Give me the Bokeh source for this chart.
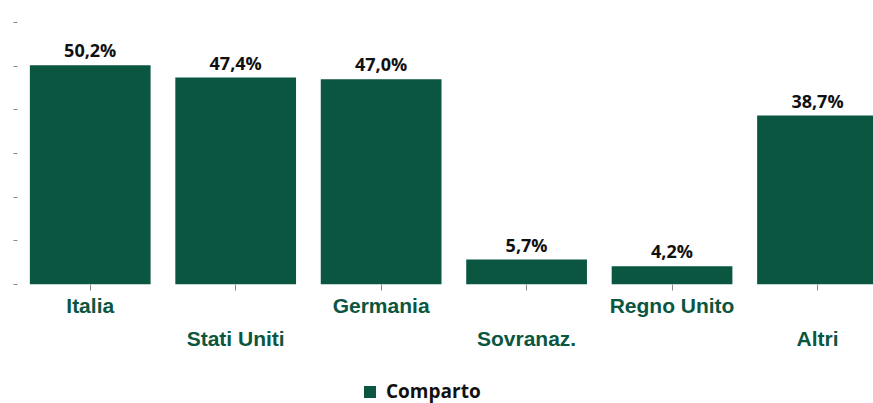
from bokeh.plotting import figure
from bokeh.models import (ColumnDataSource, Range1d, FixedTicker, LinearAxis,
                          Legend, LegendItem)
from bokeh.layouts import column
from bokeh.core.properties import value
from bokeh.embed import file_html
from bokeh.resources import INLINE

categories = ["Italia", "Stati Uniti", "Germania", "Sovranaz.", "Regno Unito", "Altri"]
values = [50.2, 47.4, 47.0, 5.7, 4.2, 38.7]
value_labels = ["50,2%", "47,4%", "47,0%", "5,7%", "4,2%", "38,7%"]
series_name = "Comparto"
y_ticks = [0, 10, 20, 30, 40, 50, 60]

GREEN = "#0B5640"
x = list(range(len(categories)))
src = ColumnDataSource(dict(x=x, top=values, lab=value_labels))

p = figure(frame_width=856, frame_height=262, output_backend="svg",
           toolbar_location=None, x_range=Range1d(-0.5, 5.385),
           y_range=Range1d(0, 60), x_axis_location=None, y_axis_location=None,
           min_border_left=17, min_border_top=22, min_border_right=0,
           min_border_bottom=0)
p.outline_line_color = None
p.xgrid.visible = False
p.ygrid.visible = False

bars = p.vbar(x="x", top="top", width=0.83, source=src, fill_color=GREEN,
              line_color=None)
p.text(x="x", y="top", text="lab", source=src, text_align="center",
       text_baseline="bottom", y_offset=-3, text_font=value("Open Sans"),
       text_font_style="bold", text_font_size="18px", text_color="#111111")

# left axis: ticks only
yax = LinearAxis(ticker=FixedTicker(ticks=y_ticks))
yax.axis_line_color = None
yax.major_tick_in = 0
yax.major_tick_out = 4
yax.major_tick_line_color = "#888888"
yax.minor_tick_line_color = None
yax.major_label_overrides = {t: " " for t in y_ticks}
yax.major_label_text_font_size = "1px"
yax.major_label_standoff = 0
p.add_layout(yax, "left")

def cat_axis(ticks, shown, standoff, tick_out, tick_color):
    ax = LinearAxis(ticker=FixedTicker(ticks=ticks))
    ax.major_label_overrides = {i: (categories[i] if i in shown else " ") for i in ticks}
    ax.axis_line_color = None
    ax.major_tick_in = 0
    ax.major_tick_out = tick_out
    ax.major_tick_line_color = tick_color
    ax.minor_tick_line_color = None
    ax.major_label_standoff = standoff
    ax.major_label_text_font = "Liberation Sans"
    ax.major_label_text_font_style = "bold"
    ax.major_label_text_font_size = "21px"
    ax.major_label_text_color = GREEN
    return ax

ax1 = cat_axis(x, [0, 2, 4], 3, 6, "#888888")
ax2 = cat_axis([1, 3, 5], [1, 3, 5], 7, 0, None)
p.add_layout(ax1, "below")
p.add_layout(ax2, "below")

# legend strip below the chart (its key renderer sits outside the visible ranges)
lg = figure(width=873, height=60, output_backend="svg", toolbar_location=None,
            x_range=Range1d(100, 101), y_range=Range1d(100, 101),
            x_axis_location=None, y_axis_location=None,
            min_border_left=0, min_border_right=0, min_border_top=0,
            min_border_bottom=0)
lg.outline_line_color = None
lg.xgrid.visible = False
lg.ygrid.visible = False
key = lg.vbar(x="x", top="top", width=0.83, source=src, fill_color=GREEN,
              line_color=None)

legend = Legend(items=[LegendItem(label=series_name, renderers=[key], index=0)],
                orientation="horizontal", location=(345, 8),
                label_text_font="Open Sans", label_text_font_style="bold",
                label_text_font_size="19px", label_text_color="#111111",
                glyph_width=15, glyph_height=15, border_line_color=None,
                background_fill_alpha=0, margin=0, padding=0, label_standoff=9)
lg.add_layout(legend, "center")

layout = column(p, lg, spacing=0)
open("out.html", "w").write(file_html(layout, INLINE))
